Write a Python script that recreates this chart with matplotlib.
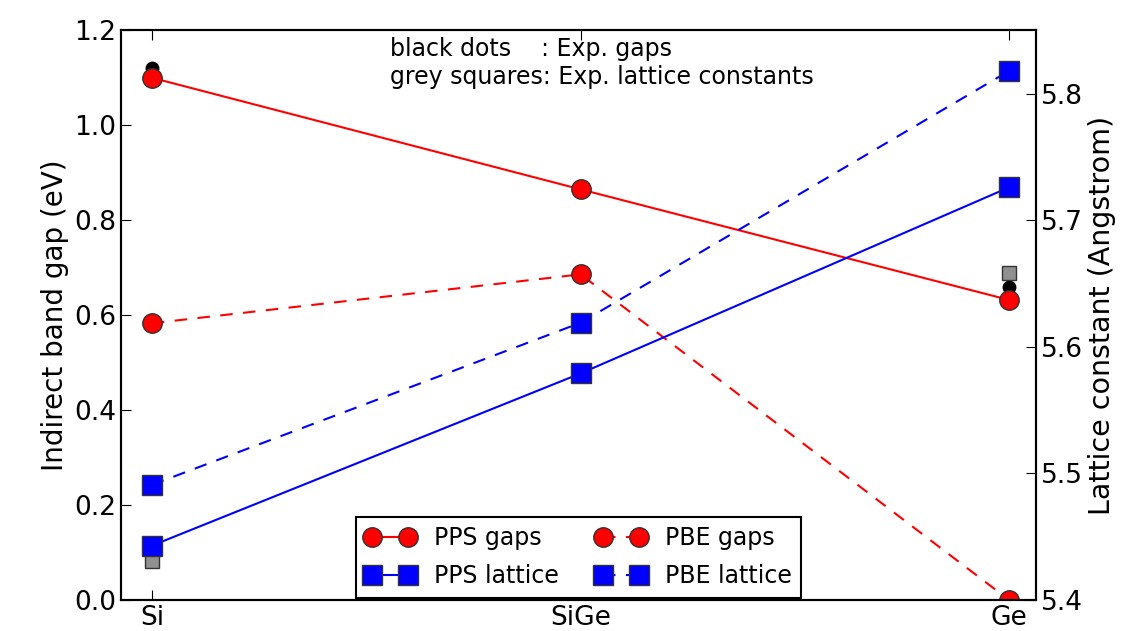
import matplotlib
matplotlib.use("Agg")
import matplotlib.pyplot as plt

materials = ["Si", "SiGe", "Ge"]
xpos = [0, 1, 2]

pps_gaps = [1.10, 0.865, 0.632]
pbe_gaps = [0.583, 0.686, 0.0]
exp_gaps = [1.12, 0.66]
exp_gap_x = [0, 2]

pps_latt = [5.443, 5.579, 5.726]
pbe_latt = [5.491, 5.619, 5.818]
exp_latt = [5.431, 5.658]
exp_latt_x = [0, 2]

plt.rcParams['font.family'] = ['DejaVu Sans']
plt.rcParams['xtick.direction'] = 'in'
plt.rcParams['ytick.direction'] = 'in'

fig = plt.figure(figsize=(11.42, 6.31), dpi=100)
ax = fig.add_axes([0.106, 0.049, 0.801, 0.903])
ax2 = ax.twinx()

dash = (0, (6, 5))

ax.plot(exp_gap_x, exp_gaps, 'o', color='k', markersize=9, zorder=2)
l1, = ax.plot(xpos, pps_gaps, color='r', ls='-', marker='o', markersize=14, lw=1.5,
              markeredgecolor='#333333', label="PPS gaps", zorder=3)
l2, = ax.plot(xpos, pbe_gaps, color='r', ls=dash, marker='o', markersize=14, lw=1.5,
              markeredgecolor='#333333', label="PBE gaps", zorder=3)

ax2.plot(exp_latt_x, exp_latt, 's', color='#909090', markersize=10,
         markeredgecolor='#333333', zorder=2)
l3, = ax2.plot(xpos, pps_latt, color='b', ls='-', marker='s', markersize=14, lw=1.5,
               markeredgecolor='#333333', label="PPS lattice", zorder=3)
l4, = ax2.plot(xpos, pbe_latt, color='b', ls=dash, marker='s', markersize=14, lw=1.5,
               markeredgecolor='#333333', label="PBE lattice", zorder=3)

ax.set_xlim(-0.072, 2.062)
ax.set_ylim(0, 1.2)
ax2.set_ylim(5.4, 5.85)
ax2.set_yticks([5.4, 5.5, 5.6, 5.7, 5.8])
ax.set_xticks(xpos)
ax.set_xticklabels(materials)
ax.tick_params(axis='both', labelsize=19, top=True, length=7)
ax2.tick_params(axis='y', labelsize=19, length=7)
for a in (ax, ax2):
    for s in a.spines.values():
        s.set_linewidth(1.5)

ax.set_ylabel("Indirect band gap (eV)", fontsize=20)
ax2.set_ylabel("Lattice constant (Angstrom)", fontsize=20.5)

ax.text(0.294, 0.988, "black dots    : Exp. gaps\ngrey squares: Exp. lattice constants",
        transform=ax.transAxes, fontsize=17, va='top', ha='left')

leg = ax2.legend([l1, l3, l2, l4], ["PPS gaps", "PPS lattice", "PBE gaps", "PBE lattice"],
                 loc='lower center', bbox_to_anchor=(0.5, 0.0), ncol=2, numpoints=2,
                 fontsize=17, fancybox=False, framealpha=1, edgecolor='k',
                 borderaxespad=0.1, columnspacing=1.6, handlelength=2.1,
                 labelspacing=0.6)
leg.get_frame().set_linewidth(1.5)

fig.savefig("out.png", dpi=100)
